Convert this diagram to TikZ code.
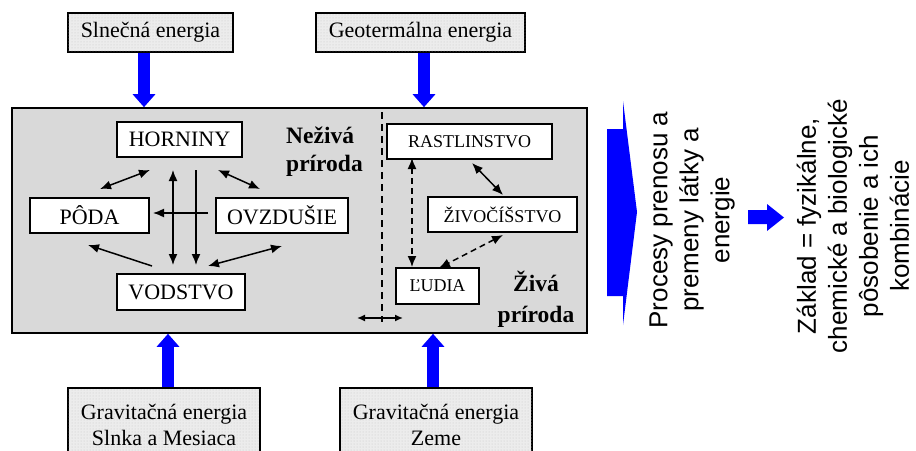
\documentclass[tikz,border=0pt]{standalone}
\usepackage{fontspec}
\setmainfont{Liberation Serif}
\newfontfamily\sansfont{Liberation Sans}
\usetikzlibrary{arrows.meta,patterns}

\definecolor{eblue}{RGB}{0,0,255}
\definecolor{panel}{RGB}{217,217,217}
\definecolor{stipple}{RGB}{236,236,236}

\begin{document}
\begin{tikzpicture}[x=1pt,y=-1pt,
  box/.style={draw=black, line width=1.6pt, fill=white, inner sep=0pt,
    font=\fontsize{22}{26}\selectfont},
  smallbox/.style={box, font=\fontsize{18}{22}\selectfont},
  energy/.style={draw=black, line width=1.6pt, inner sep=0pt, align=center,
    fill=stipple, postaction={pattern=dots, pattern color=gray!45},
    font=\fontsize{22}{26}\selectfont},
  realm/.style={inner sep=0pt, font=\bfseries\fontsize{23.5}{28}\selectfont},
  flow/.style={line width=1.5pt, -{Latex[length=11pt,width=9pt]}},
  flowtwo/.style={line width=1.5pt, {Latex[length=11pt,width=9pt]}-{Latex[length=11pt,width=9pt]}},
  dflowtwo/.style={flowtwo, dash pattern=on 6pt off 4pt},
  energyarrow/.style={draw=eblue, line width=12pt, -{Triangle[width=22pt,length=13pt]}},
  sidetext/.style={rotate=90, inner sep=0pt, align=center,
    font=\sansfont\fontsize{26}{31}\selectfont}
]
\clip (0,0) rectangle (916,450);
\fill[white] (0,0) rectangle (916,450);

% main panel
\node[draw=black, line width=1.6pt, fill=panel, minimum width=575pt, minimum height=225pt, inner sep=0pt]
  (main) at (299.5,220.5) {};
\draw[line width=1.5pt, dash pattern=on 7pt off 5pt] (382,112) coordinate (sepT) -- (382,322) coordinate (sepB);

% energy sources
\node[energy, minimum width=165pt, minimum height=39pt] (sun) at (150.5,32.5) {Slnečná energia};
\node[energy, minimum width=209pt, minimum height=39pt] (geo) at (420.5,32.5) {Geotermálna energia};
\node[energy, minimum width=192pt, minimum height=74pt] (grav1) at (164,425) {Gravitačná energia\\Slnka a Mesiaca};
\node[energy, minimum width=192pt, minimum height=74pt] (grav2) at (436,425) {Gravitačná energia\\Zeme};

\draw[energyarrow] (sun.south -| 144,0) -- (main.north -| 144,0);
\draw[energyarrow] (geo.south -| 424,0) -- (main.north -| 424,0);
\draw[energyarrow] (grav1.north -| 168,0) -- (main.south -| 168,0);
\draw[energyarrow] (grav2.north -| 433,0) -- (main.south -| 433,0);

% non-living nature
\node[box, minimum width=125pt, minimum height=35pt] (horn) at (179.5,139.5) {HORNINY};
\node[box, minimum width=119pt, minimum height=35pt] (poda) at (89.5,215.5) {PÔDA};
\node[box, minimum width=132pt, minimum height=35pt] (ovz) at (282,215.5) {OVZDUŠIE};
\node[box, minimum width=128pt, minimum height=36pt] (vod) at (181,292) {VODSTVO};
\node[realm, anchor=north west, align=left] (nez) at (286,127) {Neživá\\príroda};

\coordinate (hpA) at (100,189);  \coordinate (hpB) at (150,170);
\coordinate (hoA) at (218,170);  \coordinate (hoB) at (260,189);
\coordinate (hvA) at (173,170);  \coordinate (hvB) at (173,265);
\coordinate (hwA) at (196,170);  \coordinate (hwB) at (196,265);
\coordinate (opA) at (208,213);  \coordinate (opB) at (153,213);
\coordinate (vpA) at (152,266);  \coordinate (vpB) at (88,245);
\coordinate (voA) at (208,266);  \coordinate (voB) at (282,246);

\draw[flowtwo] (hpA) -- (hpB);
\draw[flowtwo] (hoA) -- (hoB);
\draw[flowtwo] (hvA) -- (hvB);
\draw[flow] (hwA) -- (hwB);
\draw[flow] (opA) -- (opB);
\draw[flow] (vpA) -- (vpB);
\draw[flowtwo] (voA) -- (voB);

% living nature
\node[smallbox, minimum width=165pt, minimum height=35pt] (rast) at (469.5,141.5) {RASTLINSTVO};
\node[smallbox, minimum width=149pt, minimum height=35pt] (ziv) at (502.5,214.5) {ŽIVOČÍŠSTVO};
\node[smallbox, minimum width=83pt, minimum height=36pt] (lud) at (437.5,286) {ĽUDIA};
\node[realm, anchor=north, align=center, font=\bfseries\fontsize{23.5}{31}\selectfont] (ziva) at (536,271) {Živá\\príroda};

\coordinate (rlA) at (412,158);  \coordinate (rlB) at (412,267);
\coordinate (rzA) at (472,163);  \coordinate (rzB) at (503,195);
\coordinate (zlA) at (503,235);  \coordinate (zlB) at (439,268);
\coordinate (xA) at (357,318);   \coordinate (xB) at (403,318);

\draw[dflowtwo] (rlA) -- (rlB);
\draw[flowtwo] (rzA) -- (rzB);
\draw[dflowtwo] (zlA) -- (zlB);
\draw[line width=1.5pt, {Latex[length=8pt,width=7pt]}-{Latex[length=8pt,width=7pt]}] (xA) -- (xB);

% processes and their basis
\fill[eblue] (607,129) -- (623,129) -- (623,101) -- (637,212) -- (623,325) -- (623,296) -- (607,296) -- cycle;
\node[sidetext] (proc) at (692,220) {Procesy prenosu a\\premeny látky a\\energie};
\fill[eblue] (748,210) -- (767,210) -- (767,204) -- (784,217.5) -- (767,231) -- (767,224) -- (748,224) -- cycle;
\node[sidetext] (basis) at (853,226) {Základ = fyzikálne,\\chemické a biologické\\pôsobenie a ich\\kombinácie};
\end{tikzpicture}
\end{document}
